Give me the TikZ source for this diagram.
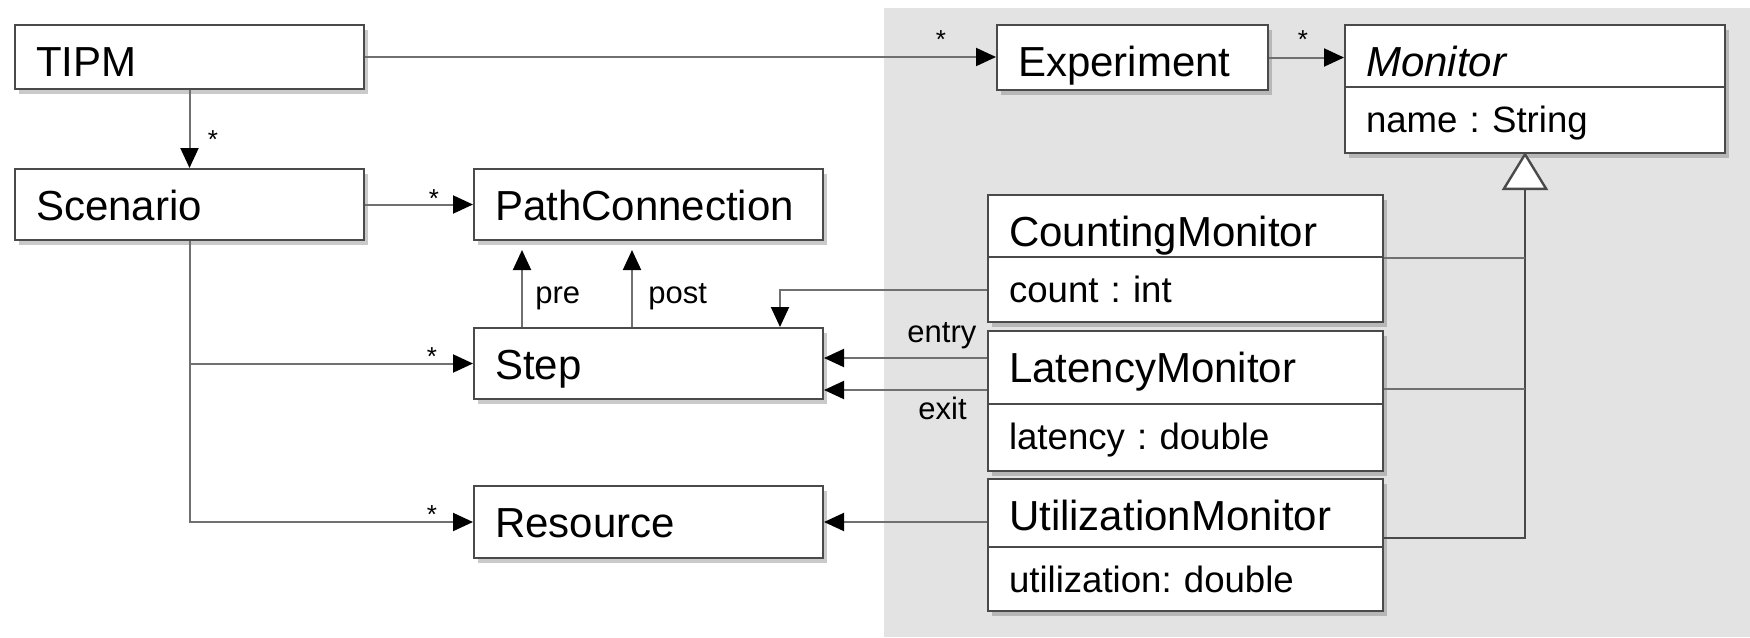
\documentclass[tikz,border=0pt]{standalone}
\usepackage{fontspec}
\setmainfont{Liberation Sans}
\usetikzlibrary{arrows.meta,shadows,calc}
\definecolor{bggrey}{HTML}{E3E3E3}
\definecolor{boxline}{HTML}{4A4A4A}
\definecolor{conn}{HTML}{707070}
\newcommand\clsfont{\fontsize{21}{25}\selectfont}
\newcommand\attrfont{\fontsize{18.3}{22}\selectfont}
\newcommand\lblfont{\fontsize{15.5}{18}\selectfont}
\frenchspacing
\begin{document}
\frenchspacing
\begin{tikzpicture}[x=0.5pt,y=-0.5pt,
  clsbox/.style={draw=boxline, line width=1pt, fill=white, anchor=north west,
    inner xsep=10.5pt, inner ysep=0pt, align=left, text height=25.5pt, font=\clsfont,
    drop shadow={shadow xshift=2pt,shadow yshift=-2.5pt,opacity=0.35,fill=black!60}},
  attrbox/.style={clsbox, text height=22.75pt, font=\attrfont},
  assoc/.style={draw=conn, line width=1pt, -{Triangle[length=10pt,width=9pt,color=black]}},
  plain/.style={draw=conn, line width=1pt},
  genl/.style={draw=boxline, line width=1.2pt, -{Triangle[length=19pt,width=23pt,fill=white]}},
  starlbl/.style={font=\fontsize{13}{13}\selectfont, inner sep=0pt, anchor=base, yshift=-7.5pt},
  lbl/.style={font=\lblfont, inner sep=0pt, anchor=base west}
]
\useasboundingbox (0,0) rectangle (1750,637);
\fill[bggrey] (884,8) rectangle (1750,637);

% classes
\node[clsbox, text width=153.5pt, text depth=6.5pt] (tipm) at (14,24) {TIPM};
\node[clsbox, text width=153.5pt, text depth=10pt] (scen) at (14,168) {Scenario};
\node[clsbox, text width=153.5pt, text depth=10pt] (pc) at (473,168) {PathConnection};
\node[clsbox, text width=153.5pt, text depth=10pt] (step) at (473,327) {Step};
\node[clsbox, text width=153.5pt, text depth=10.5pt] (res) at (473,485) {Resource};
\node[clsbox, text width=114.5pt, text depth=7pt] (exp) at (996,24) {Experiment};

\node[clsbox, text width=169pt, text depth=5.5pt, font=\clsfont\itshape] (mon) at (1344,24) {Monitor};
\node[attrbox, text width=169pt, text depth=10.25pt] (mona) at (1344,86) {name : String};

\node[clsbox, text width=176.5pt, text depth=5.5pt] (cnt) at (987,194) {CountingMonitor};
\node[attrbox, text width=176.5pt, text depth=9.75pt] (cnta) at (987,256) {count : int};

\node[clsbox, text width=176.5pt, text depth=11pt] (lat) at (987,330) {LatencyMonitor};
\node[attrbox, text width=176.5pt, text depth=10.75pt] (lata) at (987,403) {latency : double};

\node[clsbox, text width=176.5pt, text depth=8.5pt] (util) at (987,478) {UtilizationMonitor};
\node[attrbox, text width=176.5pt, text depth=9.25pt] (utila) at (987,546) {utilization: double};

% associations
\draw[assoc] (tipm.east) -- (tipm.east -| exp.west);
\draw[assoc] (exp.east) -- (exp.east -| mon.west);
\draw[assoc] (tipm.south) -- (scen.north);
\draw[assoc] (scen.east) -- (pc.west);
\draw[assoc] (scen.south) |- (step.west);
\draw[assoc] (scen.south) |- (res.west);
\draw[assoc, shorten >=4.5pt] ([xshift=24.5pt]step.north west) -- ([xshift=24.5pt]pc.south west);
\draw[assoc, shorten >=4.5pt] ([xshift=79.5pt]step.north west) -- ([xshift=79.5pt]pc.south west);
\draw[assoc] (cnta.west) -| ([xshift=153.5pt]step.north west);
\draw[assoc] ([yshift=-14pt]lat.north west) -- ([yshift=-14pt]lat.north west -| step.east);
\draw[assoc] ([yshift=-30pt]lat.north west) -- ([yshift=-30pt]lat.north west -| step.east);
\draw[assoc] ([yshift=-22pt]util.north west) -- ([yshift=-22pt]util.north west -| res.east);

% generalization
\coordinate (gtop) at (1525,152);
\draw[genl] ([yshift=-30pt]util.north east) -| (gtop);
\draw[plain] (cnt.south east) -- (cnt.south east -| gtop);
\draw[plain] ([yshift=-29.5pt]lat.north east) -- ([yshift=-29.5pt]lat.north east -| gtop);

% multiplicities
\node[starlbl] (s1) at (941,33) {*};
\node[starlbl] (s2) at (1303,33) {*};
\node[starlbl] (s3) at (213,133) {*};
\node[starlbl] (s4) at (434,192) {*};
\node[starlbl] (s5) at (432,350) {*};
\node[starlbl] (s6) at (432,508) {*};

% role labels
\node[lbl] (lpre) at (535,303) {pre};
\node[lbl] (lpost) at (648,303) {post};
\node[lbl] (lentry) at (907,342) {entry};
\node[lbl] (lexit) at (918,419) {exit};
\end{tikzpicture}
\end{document}
